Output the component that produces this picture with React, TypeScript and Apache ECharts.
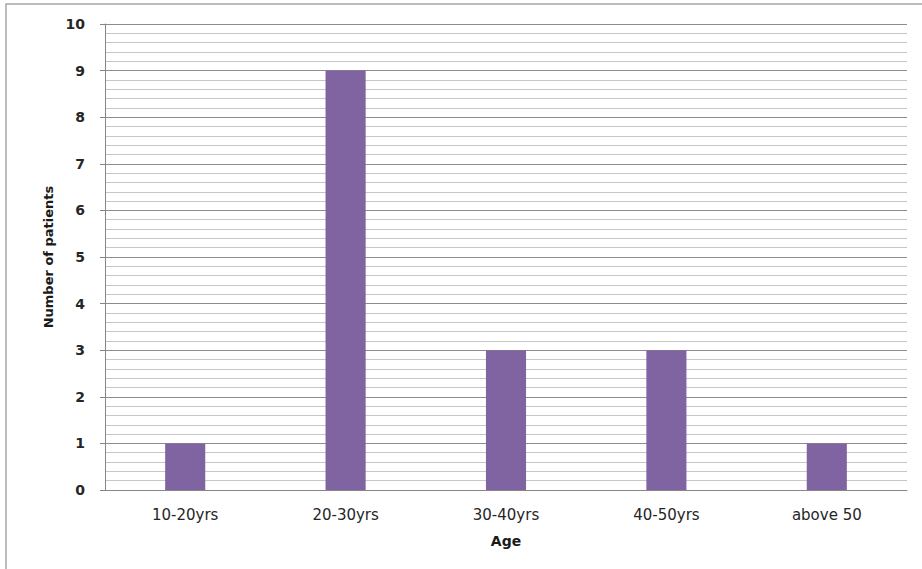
import React, { useEffect, useRef } from "react";
import * as echarts from "echarts";

// Patients grouped by age band
const ageBands: string[] = ["10-20yrs", "20-30yrs", "30-40yrs", "40-50yrs", "above 50"];
const patientCounts: number[] = [1, 9, 3, 3, 1];
const yTicks = { min: 0, max: 10, interval: 1 };

const FONT = "'DejaVu Sans', 'Open Sans', sans-serif";

export default function App() {
  const ref = useRef<HTMLDivElement>(null);

  useEffect(() => {
    if (!ref.current) return;
    const chart = echarts.init(ref.current, undefined, { renderer: "svg" });
    chart.setOption({
      animation: false,
      backgroundColor: "#ffffff",
      graphic: [
        {
          type: "rect",
          shape: { x: 6, y: 4, width: 940, height: 600 },
          style: { fill: "none", stroke: "#a6a6a6", lineWidth: 1.5 },
          silent: true,
        },
      ],
      grid: { left: 105, right: 15, top: 24, bottom: 79 },
      xAxis: {
        type: "category",
        data: ageBands,
        name: "Age",
        nameLocation: "middle",
        nameGap: 44,
        nameTextStyle: { fontFamily: FONT, fontSize: 14, fontWeight: "bold", color: "#1a1a1a" },
        axisLine: { show: true, lineStyle: { color: "#868686", width: 1 } },
        axisTick: { show: false },
        axisLabel: { fontFamily: FONT, fontSize: 15, color: "#262626", margin: 17 },
        splitLine: { show: false },
      },
      yAxis: {
        type: "value",
        min: yTicks.min,
        max: yTicks.max,
        interval: yTicks.interval,
        name: "Number of patients",
        nameLocation: "middle",
        nameGap: 50,
        nameTextStyle: { fontFamily: FONT, fontSize: 13, fontWeight: "bold", color: "#1a1a1a" },
        axisLine: { show: true, lineStyle: { color: "#868686", width: 1 } },
        axisTick: { show: true, length: 5, lineStyle: { color: "#868686" } },
        axisLabel: { fontFamily: FONT, fontSize: 14, fontWeight: "bold", color: "#262626", margin: 20 },
        splitLine: { show: true, lineStyle: { color: "#8c8c8c", width: 1 } },
        minorTick: { show: false, splitNumber: 5 },
        minorSplitLine: { show: true, lineStyle: { color: "#c6c6c6", width: 1 } },
      },
      series: [
        {
          type: "bar",
          data: patientCounts,
          barWidth: "25%",
          itemStyle: { color: "#8064a2" },
        },
      ],
    });
    return () => chart.dispose();
  }, []);

  return (
    <div
      ref={ref}
      style={{ position: "absolute", left: 0, top: 0, width: 922, height: 569 }}
    />
  );
}
